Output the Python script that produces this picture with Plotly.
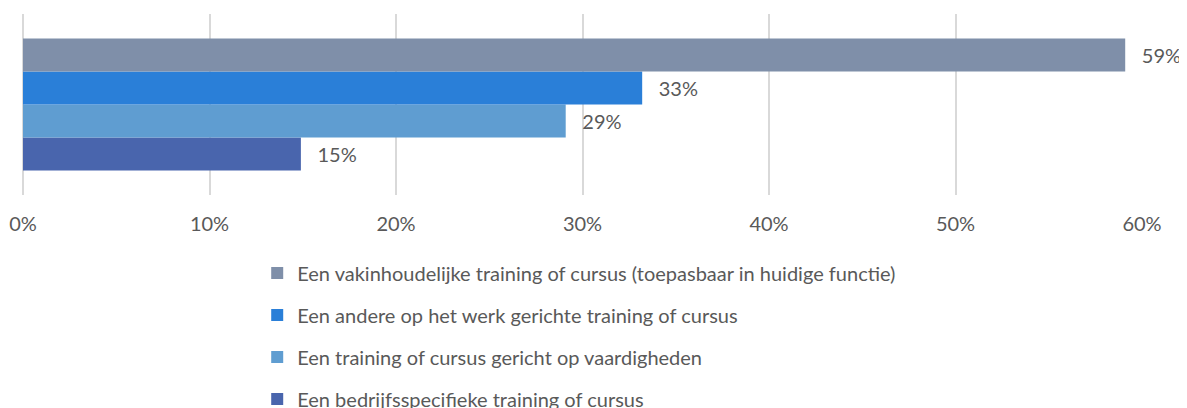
import plotly.graph_objects as go

# Data (top to bottom as shown in the chart)
series_names = [
    "Een vakinhoudelijke training of cursus (toepasbaar in huidige functie)",
    "Een andere op het werk gerichte training of cursus",
    "Een training of cursus gericht op vaardigheden",
    "Een bedrijfsspecifieke training of cursus",
]
series_values = [0.591, 0.332, 0.291, 0.149]
series_colors = ["#7F8FA9", "#2A7FD8", "#5F9DD1", "#4965AD"]
category = [""]

x_ticks = [0, 0.1, 0.2, 0.3, 0.4, 0.5, 0.6]

FONT = "Lato"
FS = 20
TXT = "#595959"

fig = go.Figure()
# Add in reverse order so the first series is drawn at the top
items = list(zip(series_names, series_values, series_colors))
for rank, (name, val, col) in reversed(list(enumerate(items))):
    fig.add_trace(go.Bar(
        y=category, x=[val], name=name, orientation="h",
        marker=dict(color=col, line=dict(width=0)),
        text=[f"{val:.0%}"], texttemplate="\u00a0\u00a0\u2006%{text}",
        textposition="outside", cliponaxis=False, constraintext="none",
        textfont=dict(family=FONT, size=FS, color=TXT),
        legendgroup=name, legendrank=rank + 1,
    ))

fig.update_layout(
    width=1179, height=400,
    margin=dict(l=15, r=45, t=6, b=213, autoexpand=False),
    paper_bgcolor="white", plot_bgcolor="white",
    barmode="group", bargap=0.27, bargroupgap=0,
    font=dict(family=FONT, size=FS, color=TXT),
    showlegend=True,
    legend=dict(
        orientation="v", traceorder="grouped", tracegroupgap=13,
        x=0.2093, xanchor="left", y=-0.3233, yanchor="top",
        font=dict(family=FONT, size=FS, color=TXT),
        bgcolor="rgba(0,0,0,0)", itemwidth=30,
    ),
    xaxis=dict(
        range=[0, 0.6], tickvals=x_ticks, tickformat=".0%",
        showgrid=True, gridcolor="#D9D9D9", gridwidth=2,
        zeroline=True, zerolinecolor="#D9D9D9", zerolinewidth=2,
        showline=False, ticks="outside", ticklen=11, tickcolor="rgba(0,0,0,0)",
        tickfont=dict(family=FONT, size=FS, color=TXT),
        fixedrange=True, automargin=False,
    ),
    yaxis=dict(showticklabels=False, showgrid=False, zeroline=False,
               fixedrange=True, automargin=False),
)

fig.write_html("out.html")
